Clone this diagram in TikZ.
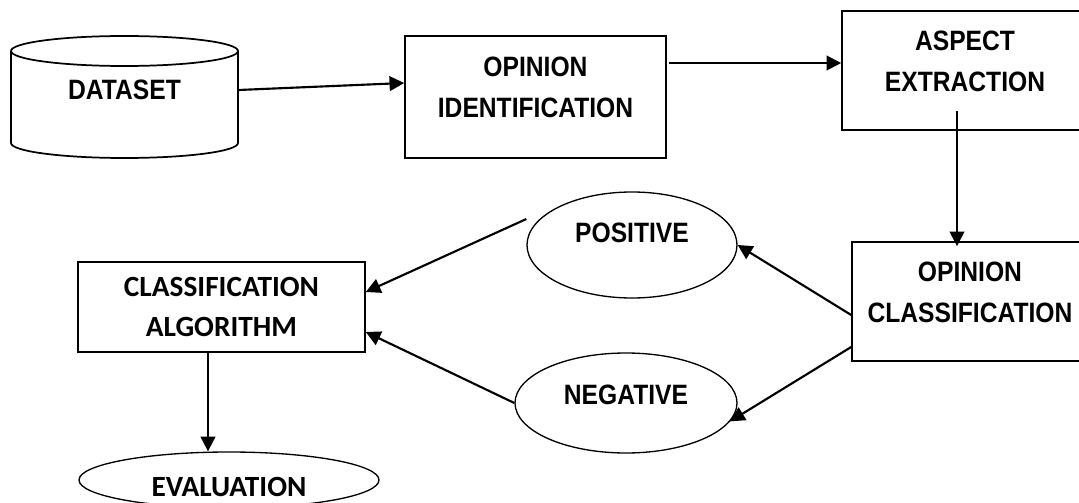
\documentclass[tikz,border=0pt]{standalone}
\usepackage{fontspec}
\setmainfont{Liberation Sans}
\newfontfamily\narrowfont{Liberation Sans}[FakeStretch=0.88]
\newfontfamily\calfont{Carlito}
\usetikzlibrary{shapes.geometric,arrows.meta,calc}

\tikzset{every picture/.style={line width=0.75pt}}
\tikzset{
  procbox/.style={draw, rectangle, line width=1.2pt, inner sep=0pt, align=center,
    font=\narrowfont\bfseries\fontsize{21pt}{30.75pt}\selectfont},
  ovalbox/.style={draw, ellipse, line width=1pt, inner sep=0pt,
    font=\narrowfont\bfseries\fontsize{21pt}{30.75pt}\selectfont},
  calibri/.style={font=\calfont\bfseries\fontsize{22pt}{30pt}\selectfont},
  flowarrow/.style={line width=1.6pt, -{Triangle[length=11pt,width=11pt]}}
}

\begin{document}
\begin{tikzpicture}[x=0.75pt,y=0.75pt,yscale=-1,xscale=1]
%set diagram left start at 0, and has height of 503
\useasboundingbox (0,0) rectangle (1079,503);

%Shape: Can
\draw [line width=1.3pt] (11,51) .. controls (11,42.72) and (61.8,36) .. (124.5,36) .. controls (187.2,36) and (238,42.72) .. (238,51) .. controls (238,59.28) and (187.2,66) .. (124.5,66) .. controls (61.8,66) and (11,59.28) .. (11,51) -- cycle ;
\draw [line width=1.3pt] (11,51) -- (11,143) .. controls (11,151.28) and (61.8,158) .. (124.5,158) .. controls (187.2,158) and (238,151.28) .. (238,143) -- (238,51) ;

% Text Node
\node [font=\narrowfont\bfseries\fontsize{21pt}{30.75pt}\selectfont, inner sep=0pt, minimum width=170.25pt] (dataset) at (124.5,90) {DATASET};

%Shape: Rectangle
\node [procbox, minimum width=195.75pt, minimum height=91.5pt, text depth=14.25pt] (opid) at (535.5,97) {OPINION\\IDENTIFICATION};
%Shape: Rectangle
\node [procbox, minimum width=184.5pt, minimum height=89.25pt, text depth=14.25pt] (aspect) at (965,70.5) {ASPECT\\EXTRACTION};
%Shape: Rectangle
\node [procbox, minimum width=177pt, minimum height=89.25pt, text depth=14.25pt] (opclass) at (970,301.5) {OPINION\\CLASSIFICATION};
%Shape: Rectangle
\node [procbox, calibri, minimum width=215.25pt, minimum height=67.5pt] (classalg) at (221.5,307) {CLASSIFICATION\\ALGORITHM};

%Shape: Ellipse
\node [ovalbox, minimum width=157.5pt, minimum height=79.5pt, text depth=18pt] (positive) at (632,245) {POSITIVE};
%Shape: Ellipse
\node [ovalbox, minimum width=166.5pt, minimum height=75pt, text depth=12pt] (negative) at (626,403) {NEGATIVE};
%Shape: Ellipse
\node [ovalbox, calibri, minimum width=225pt, minimum height=42pt, text height=24pt, text depth=0pt] (evaluation) at (229,480) {EVALUATION};

%Straight Lines
\draw [flowarrow] (dataset.east) -- ($(opid.west)+(0,-14)$) ;
%Straight Lines
\draw [flowarrow] ($(opid.east)+(2,-34)$) -- ($(aspect.west)+(0,-7.5)$) ;
%Straight Lines
\draw [flowarrow] ($(aspect.south)+(-8,-20)$) -- ($(opclass.north)+(-13,5)$) ;
%Straight Lines
\draw [flowarrow] ($(opclass.west)+(0,13.5)$) -- (positive.east) ;
%Straight Lines
\draw [flowarrow] ($(opclass.west)+(0,45.5)$) -- (negative.-10) ;
%Straight Lines
\draw [flowarrow] ($(positive.west)+(0,-26)$) -- ($(classalg.east)+(0,-15)$) ;
%Straight Lines
\draw [flowarrow] (negative.west) -- ($(classalg.east)+(0,25)$) ;
%Straight Lines
\draw [flowarrow] ($(classalg.south)+(-13.5,0)$) -- ($(evaluation.north)+(-21,0)$) ;

\end{tikzpicture}
\end{document}
